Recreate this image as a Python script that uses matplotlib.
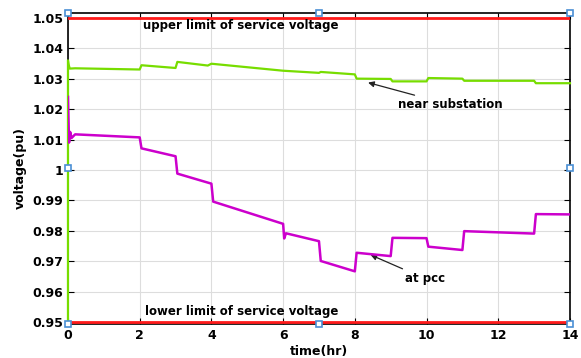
import matplotlib.pyplot as plt
from matplotlib.ticker import FuncFormatter

# near substation (green) - breakpoints
t_sub = [0, 0, 0.02, 0.05, 0.2, 2.0, 2.05, 3.0, 3.05, 3.9, 4.0, 6.0, 7.0, 7.05, 8.0, 8.05,
         9.0, 9.05, 10.0, 10.05, 11.0, 11.05, 13.0, 13.05, 14.0]
v_sub = [0.95, 1.036, 1.0345, 1.0333, 1.0334, 1.033, 1.0344, 1.0335, 1.0355, 1.0343, 1.0349,
         1.0326, 1.0319, 1.0322, 1.0314, 1.0300, 1.0299, 1.0291, 1.0291, 1.0302, 1.0300,
         1.0293, 1.0293, 1.0285, 1.0285]

# at pcc (magenta)
t_pcc = [0, 0.03, 0.06, 0.1, 0.2, 2.0, 2.05, 3.0, 3.05, 4.0, 4.05, 6.0, 6.03, 6.08, 7.0,
         7.05, 8.0, 8.05, 9.0, 9.05, 10.0, 10.05, 11.0, 11.05, 13.0, 13.05, 14.0]
v_pcc = [1.024, 1.009, 1.0125, 1.0105, 1.0117, 1.0107, 1.0071, 1.0045, 0.9988, 0.9955, 0.9896,
         0.9823, 0.9775, 0.9792, 0.9766, 0.9701, 0.9667, 0.9728, 0.9717, 0.9777, 0.9776,
         0.9748, 0.9737, 0.9799, 0.9791, 0.9855, 0.9854]

upper_limit = 1.05
lower_limit = 0.95
x_ticks = [0, 2, 4, 6, 8, 10, 12, 14]
y_ticks = [0.95, 0.96, 0.97, 0.98, 0.99, 1.0, 1.01, 1.02, 1.03, 1.04, 1.05]

fig = plt.figure(figsize=(5.81, 3.58), dpi=100)
ax = fig.add_axes([0.117, 0.095, 0.864, 0.869])

ax.plot([0, 14], [upper_limit, upper_limit], color='#ff1a1a', lw=2, zorder=3)
ax.plot([0, 14], [lower_limit, lower_limit], color='#ff1a1a', lw=2, zorder=3)
ax.plot(t_sub, v_sub, color='#77dd00', lw=1.6, zorder=4, clip_on=False)
ax.plot(t_pcc, v_pcc, color='#cc00cc', lw=1.8, zorder=4)

ax.set_xlim(0, 14)
ax.set_ylim(0.9494, 1.0516)
ax.set_xticks(x_ticks)
ax.set_yticks(y_ticks)
ax.yaxis.set_major_formatter(FuncFormatter(lambda v, p: '%g' % round(v, 2)))
ax.grid(True, color='#dddddd', lw=0.8)
ax.set_axisbelow(True)
ax.tick_params(direction='in', top=True, right=True, length=4, labelsize=9)
for lab in ax.get_xticklabels() + ax.get_yticklabels():
    lab.set_fontweight('bold')
for s in ax.spines.values():
    s.set_linewidth(1.2)

ax.set_xlabel('time(hr)', fontsize=9, fontweight='bold', labelpad=2)
ax.set_ylabel('voltage(pu)', fontsize=9, fontweight='bold', labelpad=4)

ax.text(2.1, 1.0475, 'upper limit of service voltage', fontsize=8.5, fontweight='bold', va='center')
ax.text(2.15, 0.9535, 'lower limit of service voltage', fontsize=8.5, fontweight='bold', va='center')

ax.annotate('near substation', xy=(8.37, 1.0287), xytext=(9.2, 1.0214),
            fontsize=8.5, fontweight='bold', va='center',
            arrowprops=dict(arrowstyle='-|>', color='#222222', lw=0.9, shrinkA=1, shrinkB=0))
ax.annotate('at pcc', xy=(8.44, 0.9721), xytext=(9.4, 0.9643),
            fontsize=8.5, fontweight='bold', va='center',
            arrowprops=dict(arrowstyle='-|>', color='#222222', lw=0.9, shrinkA=1, shrinkB=0))

# selection handles around the axes
hx = [0, 0.5, 1, 1, 1, 0.5, 0, 0]
hy = [1, 1, 1, 0.5, 0, 0, 0, 0.5]
ax.plot(hx, hy, 's', ms=4.5, mfc='white', mec='#4a8fd4', mew=1.2, ls='none',
        transform=ax.transAxes, clip_on=False, zorder=6)

fig.savefig('out.png', dpi=100)
